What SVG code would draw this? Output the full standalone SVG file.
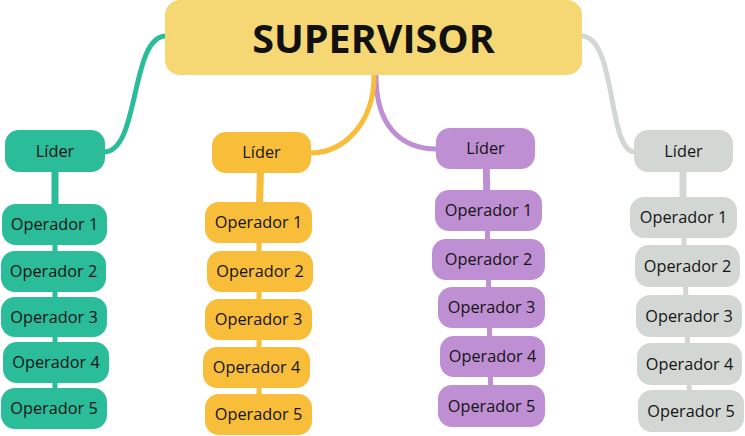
<svg xmlns="http://www.w3.org/2000/svg" width="745" height="436" viewBox="0 0 745 436">
<style>
.t{font-family:"Open Sans","Noto Sans",sans-serif;font-size:16.3px;fill:#141414;text-anchor:middle}
.sup{font-family:"Open Sans","Noto Sans",sans-serif;font-size:39.5px;font-weight:bold;fill:#111;text-anchor:middle}
.c{fill:none;stroke-linecap:round}
.g{fill:#2BBC9A}.gs{stroke:#2BBC9A}
.y{fill:#F8BE39}.ys{stroke:#F8BE39}
.p{fill:#BE8FD3}.ps{stroke:#BE8FD3}
.w{fill:#D3D7D3}.ws{stroke:#D3D7D3}
.k{stroke-width:7}.n{stroke-width:5}
</style>
<g id="connectors">
<path class="c gs" stroke-width="5" d="M166,36 C130,36 140,152 104,152"/>
<path class="c ws" stroke-width="5" d="M581,36 C617,36 607,152 635,152"/>
<path class="c ps" stroke-width="5" d="M376,76 C376,125 400,149 437,149"/>
<path class="c ys" stroke-width="5" d="M374,76 C374,122 345,153 310,153"/>
<line class="gs k" x1="55" y1="151" x2="55" y2="224"/>
<line class="gs n" x1="55" y1="224" x2="55" y2="408"/>
<line class="ys k" x1="261" y1="152" x2="259" y2="222"/>
<line class="ys n" x1="259" y1="222" x2="259" y2="414"/>
<line class="ps k" x1="486" y1="148" x2="487" y2="210"/>
<line class="ps n" x1="487" y1="210" x2="491" y2="405"/>
<line class="ws k" x1="683" y1="151" x2="683" y2="217"/>
<line class="ws n" x1="683" y1="217" x2="690" y2="411"/>
</g>
<g id="supervisor"><rect x="165" y="0" width="417" height="75" rx="15" fill="#F5D873"/><text class="sup" x="373.5" y="52.5">SUPERVISOR</text></g>

<g id="lider-verde"><rect class="g" x="5" y="130" width="100" height="42" rx="14"/><text class="t" x="55" y="156.5">Líder</text></g>
<g id="op1-verde"><rect class="g" x="2" y="204" width="105" height="41" rx="14"/><text class="t" x="54.5" y="230">Operador 1</text></g>
<g id="op2-verde"><rect class="g" x="1" y="251" width="105" height="41" rx="14"/><text class="t" x="53.5" y="277">Operador 2</text></g>
<g id="op3-verde"><rect class="g" x="1" y="297" width="106" height="40" rx="14"/><text class="t" x="54" y="322.5">Operador 3</text></g>
<g id="op4-verde"><rect class="g" x="3" y="342" width="106" height="41" rx="14"/><text class="t" x="56" y="368">Operador 4</text></g>
<g id="op5-verde"><rect class="g" x="1" y="388" width="106" height="41" rx="14"/><text class="t" x="54" y="414">Operador 5</text></g>

<g id="lider-amarelo"><rect class="y" x="212" y="132" width="99" height="41" rx="14"/><text class="t" x="261.5" y="158">Líder</text></g>
<g id="op1-amarelo"><rect class="y" x="205" y="202" width="107" height="41" rx="14"/><text class="t" x="258.5" y="228">Operador 1</text></g>
<g id="op2-amarelo"><rect class="y" x="207" y="251" width="106" height="41" rx="14"/><text class="t" x="260" y="277">Operador 2</text></g>
<g id="op3-amarelo"><rect class="y" x="205" y="299" width="107" height="41" rx="14"/><text class="t" x="258.5" y="325">Operador 3</text></g>
<g id="op4-amarelo"><rect class="y" x="203" y="347" width="107" height="41" rx="14"/><text class="t" x="256.5" y="373">Operador 4</text></g>
<g id="op5-amarelo"><rect class="y" x="205" y="394" width="107" height="41" rx="14"/><text class="t" x="258.5" y="420">Operador 5</text></g>

<g id="lider-roxo"><rect class="p" x="436" y="128" width="99" height="41" rx="14"/><text class="t" x="485.5" y="154">Líder</text></g>
<g id="op1-roxo"><rect class="p" x="435" y="190" width="107" height="41" rx="14"/><text class="t" x="488.5" y="216">Operador 1</text></g>
<g id="op2-roxo"><rect class="p" x="432" y="239" width="113" height="41" rx="14"/><text class="t" x="488.5" y="265">Operador 2</text></g>
<g id="op3-roxo"><rect class="p" x="438" y="287" width="107" height="41" rx="14"/><text class="t" x="491.5" y="313">Operador 3</text></g>
<g id="op4-roxo"><rect class="p" x="440" y="336" width="105" height="41" rx="14"/><text class="t" x="492.5" y="362">Operador 4</text></g>
<g id="op5-roxo"><rect class="p" x="438" y="385" width="107" height="42" rx="14"/><text class="t" x="491.5" y="411.5">Operador 5</text></g>

<g id="lider-cinza"><rect class="w" x="634" y="130" width="99" height="42" rx="14"/><text class="t" x="683.5" y="156.5">Líder</text></g>
<g id="op1-cinza"><rect class="w" x="630" y="197" width="107" height="41" rx="14"/><text class="t" x="683.5" y="223">Operador 1</text></g>
<g id="op2-cinza"><rect class="w" x="635" y="245" width="105" height="42" rx="14"/><text class="t" x="687.5" y="271.5">Operador 2</text></g>
<g id="op3-cinza"><rect class="w" x="636" y="295" width="106" height="42" rx="14"/><text class="t" x="689" y="321.5">Operador 3</text></g>
<g id="op4-cinza"><rect class="w" x="637" y="343" width="105" height="42" rx="14"/><text class="t" x="689.5" y="369.5">Operador 4</text></g>
<g id="op5-cinza"><rect class="w" x="638" y="390" width="106" height="42" rx="14"/><text class="t" x="691" y="416.5">Operador 5</text></g>
</svg>
